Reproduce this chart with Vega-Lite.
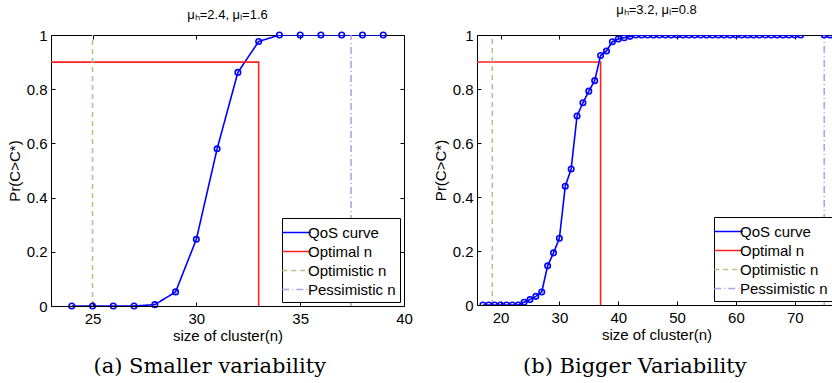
{
  "$schema": "https://vega.github.io/schema/vega-lite/v6.json",
  "background": "white",
  "padding": {"left": 6, "top": 3, "right": 0, "bottom": 0},
  "config": {
    "font": "Liberation Sans",
    "view": {"stroke": "black", "strokeWidth": 1},
    "concat": {"spacing": 19},
    "axis": {
      "grid": false,
      "zindex": 1,
      "domainColor": "black",
      "tickColor": "black",
      "tickSize": -4,
      "labelOverlap": false,
      "labelFlush": false,
      "labelBound": false,
      "labelSeparation": 0,
      "labelFont": "Liberation Sans",
      "labelFontSize": 15,
      "labelColor": "black",
      "titleFont": "Liberation Sans",
      "titleFontSize": 15,
      "titleFontWeight": "normal",
      "titleColor": "black"
    },
    "legend": {
      "orient": "bottom-right",
      "offset": 4,
      "strokeColor": "black",
      "fillColor": "white",
      "padding": 4,
      "cornerRadius": 0,
      "symbolType": "M-1.5,0H1.5",
      "symbolSize": 361,
      "symbolStrokeWidth": 1.6,
      "labelFont": "Liberation Sans",
      "labelFontSize": 15,
      "labelColor": "black",
      "labelOffset": 1,
      "rowPadding": 0,
      "title": null
    }
  },
  "datasets": {
    "leftCurve": [
      {"n": 24, "p": 0}, {"n": 25, "p": 0}, {"n": 26, "p": 0}, {"n": 27, "p": 0},
      {"n": 28, "p": 0.005}, {"n": 29, "p": 0.052}, {"n": 30, "p": 0.246}, {"n": 31, "p": 0.58},
      {"n": 32, "p": 0.862}, {"n": 33, "p": 0.976}, {"n": 34, "p": 1}, {"n": 35, "p": 1},
      {"n": 36, "p": 1}, {"n": 37, "p": 1}, {"n": 38, "p": 1}, {"n": 39, "p": 1}
    ],
    "leftLines": [
      {"series": "QoS curve", "n": 24, "p": 0, "ord": 1}, {"series": "QoS curve", "n": 25, "p": 0, "ord": 2},
      {"series": "QoS curve", "n": 26, "p": 0, "ord": 3}, {"series": "QoS curve", "n": 27, "p": 0, "ord": 4},
      {"series": "QoS curve", "n": 28, "p": 0.005, "ord": 5}, {"series": "QoS curve", "n": 29, "p": 0.052, "ord": 6},
      {"series": "QoS curve", "n": 30, "p": 0.246, "ord": 7}, {"series": "QoS curve", "n": 31, "p": 0.58, "ord": 8},
      {"series": "QoS curve", "n": 32, "p": 0.862, "ord": 9}, {"series": "QoS curve", "n": 33, "p": 0.976, "ord": 10},
      {"series": "QoS curve", "n": 34, "p": 1, "ord": 11}, {"series": "QoS curve", "n": 35, "p": 1, "ord": 12},
      {"series": "QoS curve", "n": 36, "p": 1, "ord": 13}, {"series": "QoS curve", "n": 37, "p": 1, "ord": 14},
      {"series": "QoS curve", "n": 38, "p": 1, "ord": 15}, {"series": "QoS curve", "n": 39, "p": 1, "ord": 16},
      {"series": "Optimal n", "n": 23, "p": 0.9, "ord": 1}, {"series": "Optimal n", "n": 33, "p": 0.9, "ord": 2},
      {"series": "Optimal n", "n": 33, "p": 0, "ord": 3},
      {"series": "Optimistic n", "n": 25, "p": 0, "ord": 1}, {"series": "Optimistic n", "n": 25, "p": 1, "ord": 2},
      {"series": "Pessimistic n", "n": 37.45, "p": 0, "ord": 1}, {"series": "Pessimistic n", "n": 37.45, "p": 1, "ord": 2}
    ],
    "rightCurve": [
      {"n": 17, "p": 0, "part": 1}, {"n": 18, "p": 0, "part": 1}, {"n": 19, "p": 0, "part": 1}, {"n": 20, "p": 0, "part": 1}, {"n": 21, "p": 0, "part": 1},
      {"n": 22, "p": 0, "part": 1}, {"n": 23, "p": 0, "part": 1}, {"n": 24, "p": 0.01, "part": 1}, {"n": 25, "p": 0.02, "part": 1}, {"n": 26, "p": 0.032, "part": 1},
      {"n": 27, "p": 0.048, "part": 1}, {"n": 28, "p": 0.145, "part": 1}, {"n": 29, "p": 0.193, "part": 1}, {"n": 30, "p": 0.247, "part": 1}, {"n": 31, "p": 0.44, "part": 1},
      {"n": 32, "p": 0.504, "part": 1}, {"n": 33, "p": 0.7, "part": 1}, {"n": 34, "p": 0.749, "part": 1}, {"n": 35, "p": 0.792, "part": 1}, {"n": 36, "p": 0.831, "part": 1},
      {"n": 37, "p": 0.924, "part": 1}, {"n": 38, "p": 0.941, "part": 1}, {"n": 39, "p": 0.975, "part": 1}, {"n": 40, "p": 0.985, "part": 1}, {"n": 41, "p": 0.99, "part": 1},
      {"n": 42, "p": 0.995, "part": 1}, {"n": 43, "p": 1, "part": 1}, {"n": 44, "p": 1, "part": 1}, {"n": 45, "p": 1, "part": 1}, {"n": 46, "p": 1, "part": 1},
      {"n": 47, "p": 1, "part": 1}, {"n": 48, "p": 1, "part": 1}, {"n": 49, "p": 1, "part": 1}, {"n": 50, "p": 1, "part": 1}, {"n": 51, "p": 1, "part": 1},
      {"n": 52, "p": 1, "part": 1}, {"n": 53, "p": 1, "part": 1}, {"n": 54, "p": 1, "part": 1}, {"n": 55, "p": 1, "part": 1}, {"n": 56, "p": 1, "part": 1},
      {"n": 57, "p": 1, "part": 1}, {"n": 58, "p": 1, "part": 1}, {"n": 59, "p": 1, "part": 1}, {"n": 60, "p": 1, "part": 1}, {"n": 61, "p": 1, "part": 1},
      {"n": 62, "p": 1, "part": 1}, {"n": 63, "p": 1, "part": 1}, {"n": 64, "p": 1, "part": 1}, {"n": 65, "p": 1, "part": 1}, {"n": 66, "p": 1, "part": 1},
      {"n": 67, "p": 1, "part": 1}, {"n": 68, "p": 1, "part": 1}, {"n": 69, "p": 1, "part": 1}, {"n": 70, "p": 1, "part": 1}, {"n": 71, "p": 1, "part": 1},
      {"n": 75, "p": 1, "part": 2}, {"n": 76, "p": 1, "part": 2}
    ],
    "rightLines": [
      {"series": "Optimal n", "n": 16, "p": 0.9, "ord": 1}, {"series": "Optimal n", "n": 37, "p": 0.9, "ord": 2},
      {"series": "Optimal n", "n": 37, "p": 0, "ord": 3},
      {"series": "Optimistic n", "n": 18.6, "p": 0, "ord": 1}, {"series": "Optimistic n", "n": 18.6, "p": 1, "ord": 2},
      {"series": "Pessimistic n", "n": 75, "p": 0, "ord": 1}, {"series": "Pessimistic n", "n": 75, "p": 1, "ord": 2}
    ]
  },
  "resolve": {"legend": {"color": "independent", "strokeDash": "independent"}},
  "hconcat": [
    {
      "title": {"text": "(a) Smaller variability", "orient": "bottom", "anchor": "middle", "font": "DejaVu Serif", "fontSize": 21, "fontWeight": "normal", "color": "black", "offset": 12},
      "resolve": {"legend": {"color": "independent", "strokeDash": "independent"}},
      "vconcat": [
        {
          "title": {"text": "μₕ=2.4, μₗ=1.6", "fontSize": 13, "fontWeight": "normal", "color": "black", "font": "Liberation Sans", "offset": 6},
          "width": 353,
          "height": 271,
          "layer": [
            {
              "data": {"name": "leftLines"},
              "mark": {"type": "line", "strokeWidth": 1.6, "clip": true},
              "encoding": {
                "x": {"field": "n", "type": "quantitative", "scale": {"domain": [23, 40], "nice": false, "zero": false}, "axis": {"values": [25, 30, 35, 40], "labelExpr": "format(datum.value, 'd')", "title": "size of cluster(n)", "labelPadding": 9.5, "titlePadding": 2, "labelOverlap": false, "labelFlush": false, "zindex": 2}},
                "y": {"field": "p", "type": "quantitative", "scale": {"domain": [0, 1], "nice": false}, "axis": {"values": [0, 0.2, 0.4, 0.6, 0.8, 1], "format": "~g", "title": "Pr(C>C*)", "labelPadding": 8, "titlePadding": 4}},
                "color": {"field": "series", "type": "nominal", "scale": {"domain": ["QoS curve", "Optimal n", "Optimistic n", "Pessimistic n"], "range": ["#0000ff", "#ff2020", "#a8c88c", "#b4a0ec"]}, "legend": {"title": null}},
                "strokeDash": {"field": "series", "type": "nominal", "scale": {"domain": ["QoS curve", "Optimal n", "Optimistic n", "Pessimistic n"], "range": [[1, 0], [1, 0], [5, 4], [7, 3, 1, 3]]}, "legend": {"title": null}},
                "order": {"field": "ord", "type": "quantitative"}
              }
            },
            {
              "data": {"name": "leftCurve"},
              "mark": {"type": "point", "shape": "circle", "size": 30, "color": "#0000ff", "strokeWidth": 1.6, "filled": false, "opacity": 1},
              "encoding": {
                "x": {"field": "n", "type": "quantitative", "axis": {"orient": "top", "values": [25, 30, 35, 40], "labels": false, "domain": false, "title": null}},
                "y": {"field": "p", "type": "quantitative", "axis": {"orient": "right", "values": [0, 0.2, 0.4, 0.6, 0.8, 1], "labels": false, "domain": false, "title": null}}
              }
            }
          ],
          "resolve": {"axis": {"x": "independent", "y": "independent"}}
        }
      ]
    },
    {
      "title": {"text": "(b) Bigger Variability", "orient": "bottom", "anchor": "middle", "font": "DejaVu Serif", "fontSize": 21, "fontWeight": "normal", "color": "black", "offset": 13},
      "resolve": {"legend": {"color": "independent", "strokeDash": "independent"}},
      "vconcat": [
        {
          "title": {"text": "μₕ=3.2, μₗ=0.8", "fontSize": 13, "fontWeight": "normal", "color": "black", "font": "Liberation Sans", "offset": 11},
          "width": 359,
          "height": 270,
          "layer": [
            {
              "data": {"name": "rightLines"},
              "mark": {"type": "line", "strokeWidth": 1.6, "clip": true},
              "encoding": {
                "x": {"field": "n", "type": "quantitative", "scale": {"domain": [16, 77], "nice": false, "zero": false}, "axis": {"values": [20, 30, 40, 50, 60, 70], "title": "size of cluster(n)", "labelPadding": 9.5, "titlePadding": 2}},
                "y": {"field": "p", "type": "quantitative", "scale": {"domain": [0, 1], "nice": false}, "axis": {"values": [0, 0.2, 0.4, 0.6, 0.8, 1], "format": "~g", "title": "Pr(C>C*)", "labelPadding": 8, "titlePadding": 4}},
                "color": {"field": "series", "type": "nominal", "scale": {"domain": ["QoS curve", "Optimal n", "Optimistic n", "Pessimistic n"], "range": ["#0000ff", "#ff2020", "#a8c88c", "#b4a0ec"]}, "legend": {"title": null}},
                "strokeDash": {"field": "series", "type": "nominal", "scale": {"domain": ["QoS curve", "Optimal n", "Optimistic n", "Pessimistic n"], "range": [[1, 0], [1, 0], [5, 4], [7, 3, 1, 3]]}, "legend": {"title": null}},
                "order": {"field": "ord", "type": "quantitative"}
              }
            },
            {
              "data": {"name": "rightCurve"},
              "mark": {"type": "line", "strokeWidth": 1.6, "color": "#0000ff", "clip": true},
              "encoding": {
                "x": {"field": "n", "type": "quantitative", "axis": {"orient": "top", "values": [20, 30, 40, 50, 60, 70], "labels": false, "domain": false, "title": null}},
                "y": {"field": "p", "type": "quantitative", "axis": {"orient": "right", "values": [0, 0.2, 0.4, 0.6, 0.8, 1], "labels": false, "domain": false, "title": null}},
                "detail": {"field": "part", "type": "nominal"}
              }
            },
            {
              "data": {"name": "rightCurve"},
              "mark": {"type": "point", "shape": "circle", "size": 30, "color": "#0000ff", "strokeWidth": 1.6, "filled": false, "opacity": 1, "clip": true},
              "encoding": {
                "x": {"field": "n", "type": "quantitative", "axis": null},
                "y": {"field": "p", "type": "quantitative", "axis": null}
              }
            }
          ],
          "resolve": {"axis": {"x": "independent", "y": "independent"}}
        }
      ]
    }
  ]
}
